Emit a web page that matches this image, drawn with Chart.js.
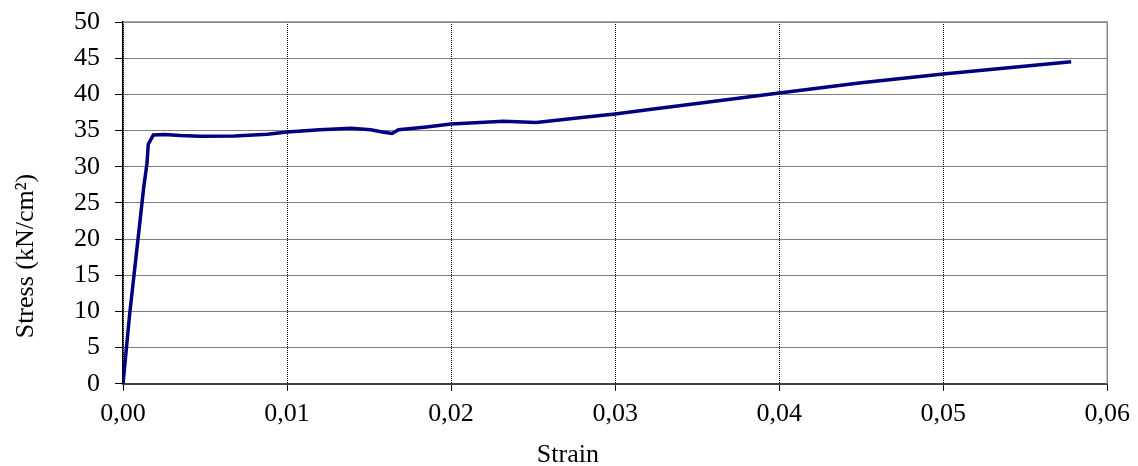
<!DOCTYPE html>
<html>
<head>
<meta charset="utf-8">
<script src="https://cdn.jsdelivr.net/npm/chart.js@4.4.1/dist/chart.umd.min.js"></script>
<style>
  html, body { margin: 0; padding: 0; background: #fff; }
  #wrap { width: 1138px; height: 466px; }
</style>
</head>
<body>
<div id="wrap"><canvas id="chart"></canvas></div>
<script>
// Stress-strain curve, values
const strain = [
  0, 0.0004, 0.0009, 0.00126, 0.00146, 0.00154, 0.00185, 0.0025, 0.0035, 0.0047,
  0.0068, 0.0088, 0.0100, 0.0120, 0.0139, 0.0151, 0.0158, 0.0164, 0.0168, 0.0185,
  0.0200, 0.0232, 0.0252, 0.0281, 0.0300, 0.0321, 0.0350, 0.0400, 0.0450, 0.0500,
  0.0578
];
const stress = [
  0, 9.5, 19.7, 27.1, 30.4, 33.1, 34.4, 34.45, 34.3, 34.2,
  34.25, 34.5, 34.8, 35.1, 35.3, 35.1, 34.8, 34.6, 35.1, 35.5,
  35.9, 36.3, 36.1, 36.85, 37.3, 37.9, 38.75, 40.2, 41.6, 42.8,
  44.5
];

const xTitle = 'Strain';
const yTitle = 'Stress (kN/cm²)';
const fontFamily = '"Times New Roman", "Liberation Serif", Tinos, Times, serif';
const fontSize = 26;

// grey frame on top/right, and the two axis titles (placed like the original,
// which does not centre them on the plot area)
const frame = {
  id: 'frame',
  afterDraw(chart) {
    const { ctx, chartArea: a } = chart;
    ctx.save();
    ctx.strokeStyle = '#8a8a8a';
    ctx.lineWidth = 1.5;
    ctx.beginPath();
    ctx.moveTo(a.left, a.top);
    ctx.lineTo(a.right, a.top);
    ctx.lineTo(a.right, a.bottom);
    ctx.stroke();

    ctx.fillStyle = '#000';
    ctx.font = fontSize + 'px ' + fontFamily;
    ctx.textAlign = 'center';
    ctx.textBaseline = 'alphabetic';
    ctx.fillText(xTitle, a.left + (a.right - a.left) * 0.452, 461.5);

    ctx.translate(33, a.top + (a.bottom - a.top) * 0.647);
    ctx.rotate(-Math.PI / 2);
    ctx.fillText(yTitle, 0, 0);
    ctx.restore();
  }
};

const ctx = document.getElementById('chart').getContext('2d');
new Chart(ctx, {
  type: 'scatter',
  data: {
    datasets: [{
      data: strain.map((s, i) => ({ x: s, y: stress[i] })),
      showLine: true,
      borderColor: '#000080',
      backgroundColor: '#000080',
      borderWidth: 3.5,
      pointRadius: 0,
      tension: 0
    }]
  },
  options: {
    responsive: true,
    maintainAspectRatio: false,
    animation: false,
    layout: { padding: { left: 59, right: 30, top: 22, bottom: 28 } },
    plugins: {
      legend: { display: false },
      tooltip: { enabled: false }
    },
    scales: {
      x: {
        type: 'linear',
        min: 0,
        max: 0.06,
        ticks: {
          stepSize: 0.01,
          padding: 8,
          color: '#000',
          font: { family: fontFamily, size: fontSize },
          callback: v => v.toFixed(2).replace('.', ',')
        },
        grid: {
          color: '#000',
          tickLength: 7,
          tickColor: '#000',
          tickBorderDash: []
        },
        border: { display: true, color: '#444', width: 2, dash: [1, 1] }
      },
      y: {
        min: 0,
        max: 50,
        ticks: {
          stepSize: 5,
          padding: 15,
          color: '#000',
          font: { family: fontFamily, size: fontSize, lineHeight: 0.5 }
        },
        grid: {
          color: '#000',
          tickLength: 8,
          tickColor: '#000',
          tickBorderDash: []
        },
        border: { display: true, color: '#000', width: 1.5, dash: [1, 1] }
      }
    }
  },
  plugins: [frame]
});
</script>
</body>
</html>
